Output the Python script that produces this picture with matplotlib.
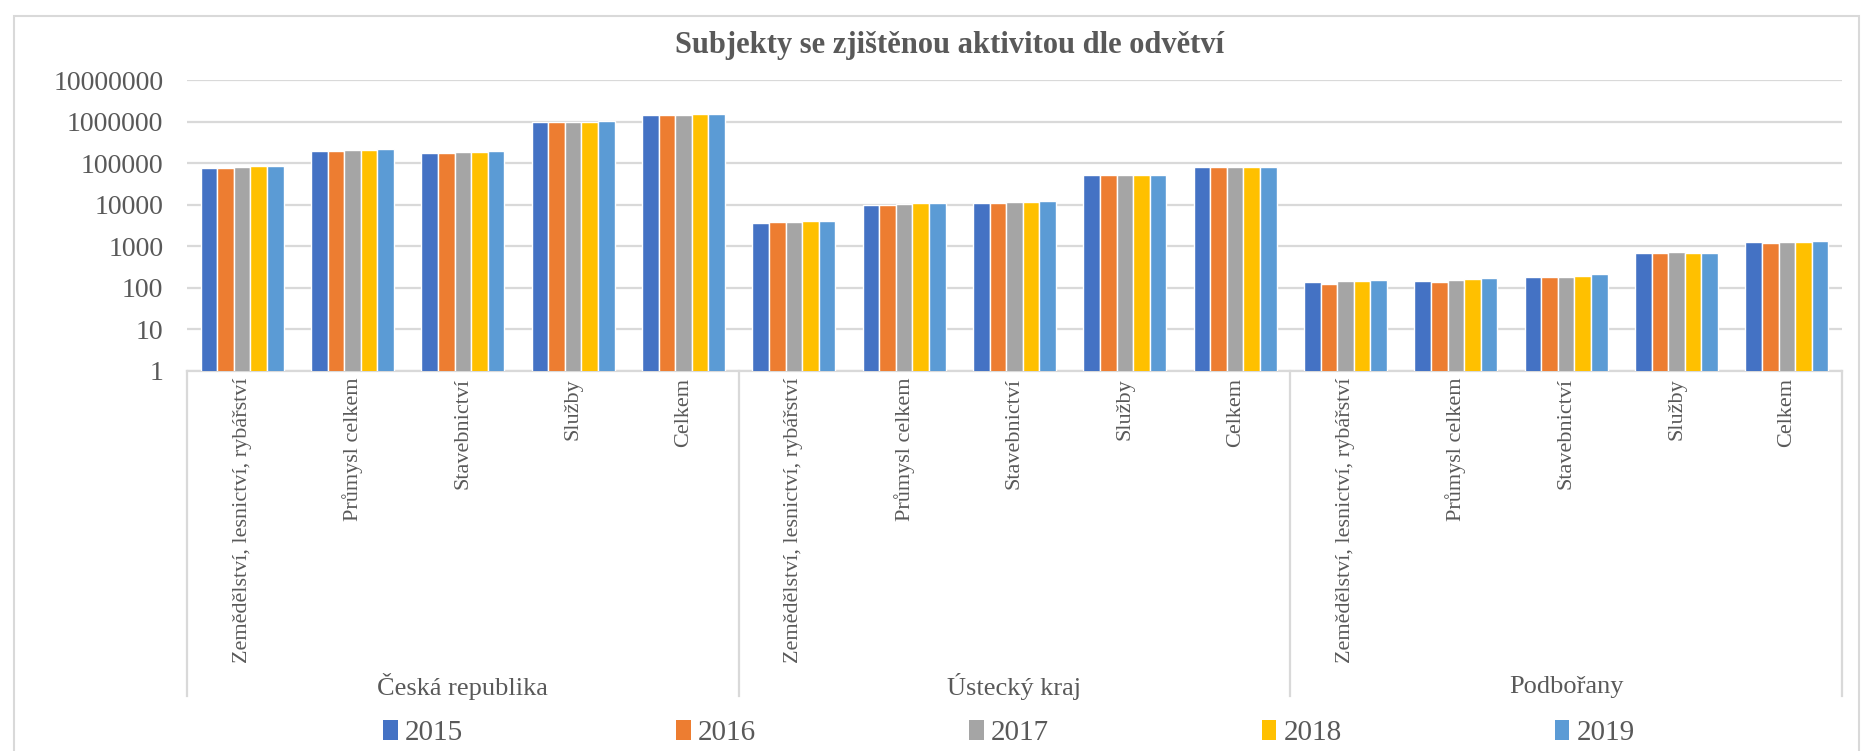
import matplotlib
matplotlib.use("Agg")
import matplotlib.pyplot as plt
from matplotlib.patches import Rectangle
import matplotlib.transforms as mtransforms
import numpy as np

plt.rcParams['font.family'] = ['Liberation Serif', 'DejaVu Serif']

regions = ['Česká republika', 'Ústecký kraj', 'Podbořany']
sectors = ['Zemědělství, lesnictví, rybářství', 'Průmysl celkem',
           'Stavebnictví', 'Služby', 'Celkem']
years = ['2015', '2016', '2017', '2018', '2019']
colors = ['#4472C4', '#ED7D31', '#A5A5A5', '#FFC000', '#5B9BD5']

# values per year, order: ČR (5 sectors), Ústecký kraj (5), Podbořany (5)
v2015 = [76000, 195000, 174000, 950000, 1420000,
         3700, 10000, 10900, 53000, 79000,
         140, 147, 184, 700, 1250]
v2016 = [76000, 195000, 174000, 960000, 1420000,
         3900, 10000, 10900, 53000, 79000,
         127, 140, 184, 700, 1180]
v2017 = [80000, 206000, 184000, 990000, 1430000,
         3900, 10400, 11600, 53000, 79000,
         147, 156, 184, 740, 1250]
v2018 = [84000, 206000, 184000, 1000000, 1500000,
         4100, 10900, 11600, 53000, 79000,
         147, 165, 195, 700, 1250]
v2019 = [84000, 218000, 195000, 1010000, 1500000,
         4100, 10900, 12300, 53000, 79000,
         156, 174, 214, 700, 1320]
series = [v2015, v2016, v2017, v2018, v2019]

text_col = '#595959'
grid_col = '#D9D9D9'

fig = plt.figure(figsize=(18.66, 7.51), dpi=100)
ax = fig.add_axes([187 / 1866, 1 - 371 / 751, (1842 - 187) / 1866, (371 - 80) / 751])

# chart frame
fig.patches.append(Rectangle((14 / 1866, -0.05), (1859 - 14) / 1866, 1.05 - 16 / 751,
                             transform=fig.transFigure, fill=False,
                             edgecolor=grid_col, linewidth=1.5, zorder=0))

n = len(sectors) * len(regions)
x = np.arange(n)
step = 0.15
for j, (vals, yr, c) in enumerate(zip(series, years, colors)):
    ax.bar(x + (j - 2) * step, vals, width=step, color=c, label=yr,
           edgecolor='white', linewidth=1.0, zorder=3)

ax.set_yscale('log')
ax.set_ylim(1, 1e7)
ax.set_xlim(-0.5, n - 0.5)
ticks = [1, 10, 100, 1000, 10000, 100000, 1000000, 10000000]
ax.set_yticks(ticks)
ax.set_yticklabels([str(t) for t in ticks])
ax.yaxis.set_minor_locator(matplotlib.ticker.NullLocator())
ax.tick_params(axis='y', length=0, pad=17, labelsize=20, labelcolor=text_col)
ax.set_xticks([])
ax.grid(axis='y', color=grid_col, linewidth=1.6, zorder=0)
for s in ['left', 'right', 'top']:
    ax.spines[s].set_visible(False)
ax.spines['bottom'].set_color(grid_col)
ax.spines['bottom'].set_linewidth(1.6)

trans = mtransforms.blended_transform_factory(ax.transData, ax.transAxes)
for i in range(n):
    ax.text(i, -0.024, sectors[i % 5], rotation=90, ha='center', va='top',
            transform=trans, fontsize=16, color=text_col)

sep_bottom = -(696 - 371) / 291
for b in [-0.5, 4.5, 9.5, 14.5]:
    ax.plot([b, b], [0, sep_bottom], transform=trans, color=grid_col,
            linewidth=1.6, clip_on=False)
for k, r in enumerate(regions):
    ax.text(k * 5 + 2, -(687 - 371) / 291, r, ha='center', va='center',
            transform=trans, fontsize=19, color=text_col)

fig.text(950 / 1866, 1 - 45 / 751, 'Subjekty se zjištěnou aktivitou dle odvětví',
         ha='center', va='center', fontsize=22, fontweight='bold', color=text_col)

leg = fig.legend(loc='center', bbox_to_anchor=(1009 / 1866, 1 - 733 / 751), ncol=5,
                 frameon=False, fontsize=21, handlelength=0.5, handleheight=0.7,
                 handletextpad=0.25, columnspacing=7.3, labelcolor=text_col)
for h in leg.legend_handles:
    h.set_edgecolor('none')

fig.savefig('out.png', dpi=100)
